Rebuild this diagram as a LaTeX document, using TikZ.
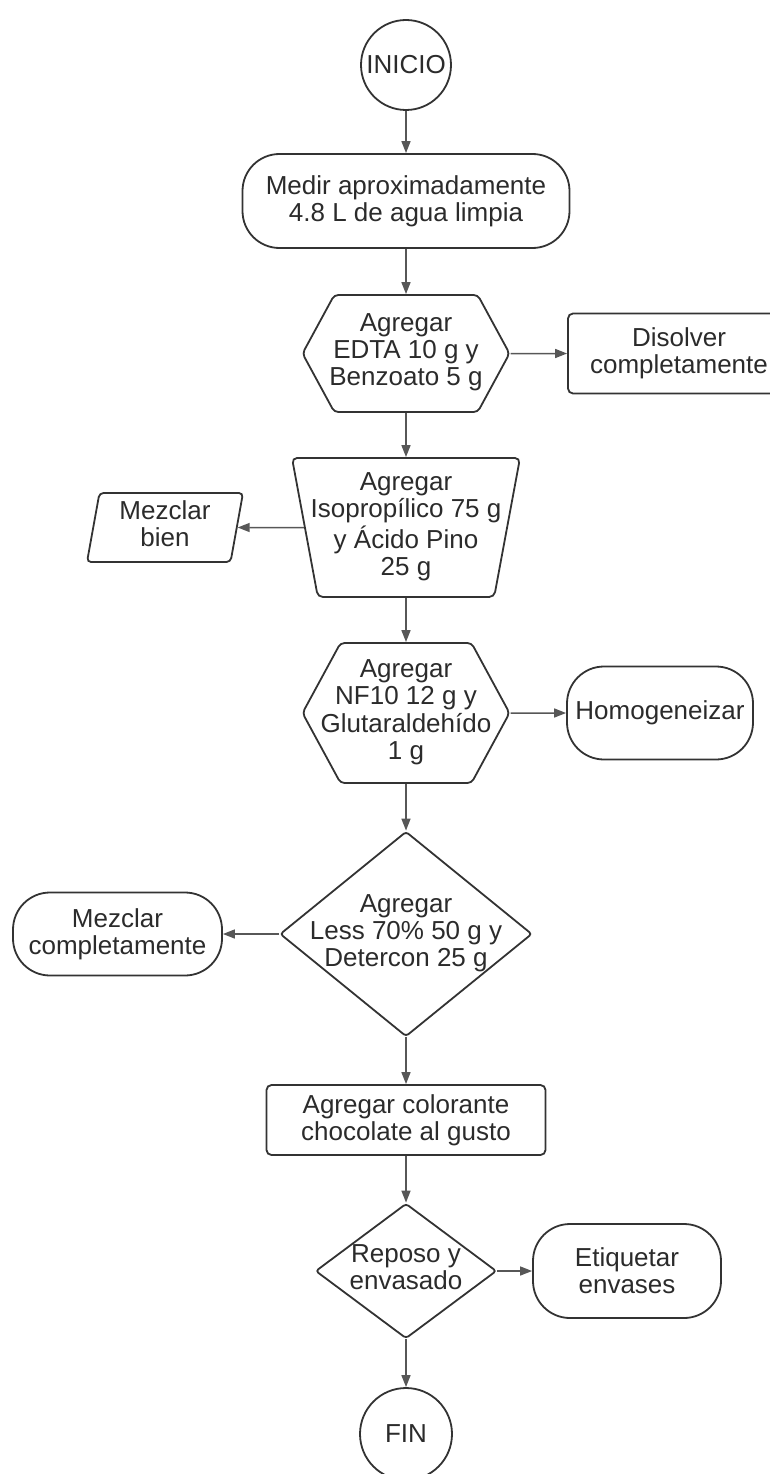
\documentclass[tikz,border=0pt]{standalone}
\usepackage{fontspec}
\setmainfont{Liberation Sans}
\usetikzlibrary{arrows.meta, shapes.geometric, shapes.symbols}

\definecolor{edgegray}{HTML}{333333}
\definecolor{linegray}{HTML}{575757}
\definecolor{textgray}{HTML}{2B2B2B}

% text that does not widen the shape around it
\newcommand{\stacktext}[1]{\makebox[0pt]{\begin{tabular}{@{}c@{}}#1\end{tabular}}}

\tikzset{
    base/.style={draw=edgegray, line width=1.8pt, text=textgray, inner sep=0pt, align=center, font=\fontsize{26}{27}\selectfont},
    terminal/.style={base, circle, minimum size=90pt},
    pill/.style={base, rectangle, rounded corners=37pt},
    procbox/.style={base, rectangle, rounded corners=5pt},
    hexbox/.style={base, signal, signal to=east and west, signal pointer angle=123, rounded corners=4pt},
    funnel/.style={base, trapezium, trapezium stretches body=true, shape border rotate=180, trapezium left angle=77, trapezium right angle=77, rounded corners=5pt},
    slanted/.style={base, trapezium, trapezium stretches body=true, trapezium left angle=77, trapezium right angle=103, rounded corners=4pt},
    decision/.style={base, diamond, rounded corners=3pt},
    flow/.style={draw=linegray, line width=1.5pt, -{Triangle[length=12pt, width=9pt]}}
}

\begin{document}
\begin{tikzpicture}[x=1pt, y=-1pt]
    \useasboundingbox (0,0) rectangle (769,1474);

    % main column
    \node [terminal] (inicio) at (406,65) {INICIO};
    \node [pill, minimum width=327pt, minimum height=94pt] (medir) at (406,201) {Medir aproximadamente\\4.8 L de agua limpia};
    \node [hexbox, minimum width=207pt, minimum height=117pt] (edta) at (406,353.5) {\stacktext{Agregar\\EDTA 10 g y\\Benzoato 5 g}};
    \node [funnel, minimum width=228pt, minimum height=139pt] (isop) at (406,527.5) {\stacktext{Agregar\\Isopropílico 75 g\\y Ácido Pino\\25 g}};
    \node [hexbox, minimum width=207pt, minimum height=140pt] (nf) at (406,713) {\stacktext{Agregar\\NF10 12 g y\\Glutaraldehído\\1 g}};
    \node [decision, minimum width=252pt, minimum height=205pt] (less) at (406,934) {\stacktext{Agregar\\Less 70\% 50 g y\\Detercon 25 g}};
    \node [procbox, minimum width=279pt, minimum height=70pt] (color) at (406,1120) {Agregar colorante\\chocolate al gusto};
    \node [decision, minimum width=181pt, minimum height=135pt] (reposo) at (406,1271) {\stacktext{Reposo y\\envasado}};
    \node [terminal, minimum size=92pt] (fin) at (406,1434) {FIN};

    % side steps
    \node [procbox, minimum width=222pt, minimum height=80pt] (disolver) at (679,353.5) {Disolver\\completamente};
    \node [slanted, minimum width=156pt, minimum height=69pt] (mezclarb) at (165,527.5) {\stacktext{Mezclar\\bien}};
    \node [pill, minimum width=186pt, minimum height=93pt] (homog) at (660,713) {Homogeneizar};
    \node [pill, minimum width=209pt, minimum height=83pt] (mezclarc) at (117.5,934) {Mezclar\\completamente};
    \node [pill, minimum width=188pt, minimum height=94pt] (etiq) at (627,1271) {Etiquetar\\envases};

    \draw [flow] (inicio) -- (medir);
    \draw [flow] (medir) -- (edta);
    \draw [flow] (edta) -- (isop);
    \draw [flow] (isop) -- (nf);
    \draw [flow] (nf) -- (less);
    \draw [flow] (less) -- (color);
    \draw [flow] (color) -- (reposo);
    \draw [flow] (reposo) -- (fin);

    \draw [flow] (edta) -- (disolver);
    \draw [flow] (isop) -- (mezclarb);
    \draw [flow] (nf) -- (homog);
    \draw [flow] (less) -- (mezclarc);
    \draw [flow] (reposo) -- (etiq);
\end{tikzpicture}
\end{document}
